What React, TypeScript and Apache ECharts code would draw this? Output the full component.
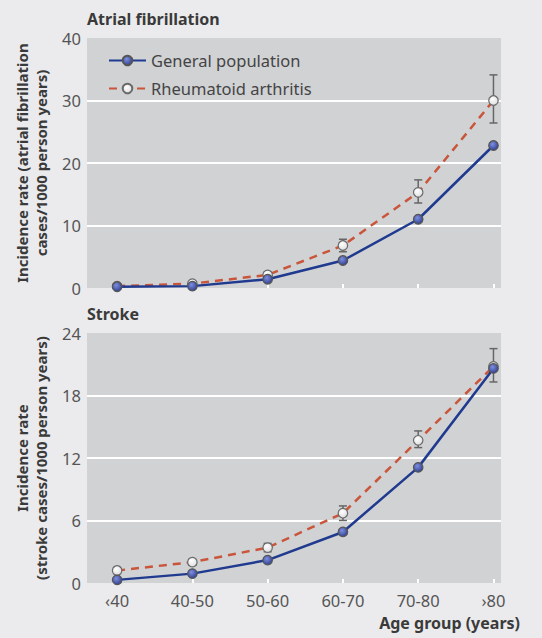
import React, { useEffect, useRef } from "react";
import * as echarts from "echarts";

const categories = ["\u203940", "40-50", "50-60", "60-70", "70-80", "\u203a80"];
const seriesNames = ["General population", "Rheumatoid arthritis"];

const afGeneral = [0.2, 0.3, 1.4, 4.4, 11.0, 22.8];
const afRA = [0.3, 0.7, 2.1, 6.8, 15.3, 30.0];
const afRALow = [0.1, 0.5, 1.6, 5.8, 13.6, 26.4];
const afRAHigh = [0.5, 0.9, 2.6, 7.8, 17.3, 34.1];

const strokeGeneral = [0.3, 0.9, 2.2, 4.9, 11.1, 20.6];
const strokeRA = [1.2, 2.0, 3.4, 6.7, 13.7, 20.8];
const strokeRALow = [0.9, 1.7, 3.0, 6.0, 13.0, 19.3];
const strokeRAHigh = [1.5, 2.3, 3.8, 7.4, 14.6, 22.5];

const afTicks = [0, 10, 20, 30, 40];
const strokeTicks = [0, 6, 12, 18, 24];

const FONT = "'Noto Sans', sans-serif";
const BLUE = "#1f3a8f";
const RED = "#c9553b";

const blueFill = new echarts.graphic.RadialGradient(0.4, 0.35, 0.7, [
  { offset: 0, color: "#7f8fe0" },
  { offset: 1, color: "#2c3c8e" },
]);
const whiteFill = new echarts.graphic.RadialGradient(0.4, 0.35, 0.7, [
  { offset: 0, color: "#ffffff" },
  { offset: 1, color: "#dcdcdc" },
]);

function pairs(vals: number[]) {
  return vals.map((v, i) => [i, v]);
}

function errData(low: number[], high: number[]) {
  return low.map((l, i) => [i, l, high[i]]);
}

function errorSeries(idx: number, low: number[], high: number[]) {
  return {
    type: "custom",
    xAxisIndex: idx,
    yAxisIndex: idx,
    z: 2,
    silent: true,
    data: errData(low, high),
    encode: { x: 0, y: [1, 2] },
    renderItem: (params: any, api: any) => {
      const x = api.value(0);
      const lo = api.coord([x, api.value(1)]);
      const hi = api.coord([x, api.value(2)]);
      const w = 4;
      const style = { stroke: "#666666", lineWidth: 1.5 };
      return {
        type: "group",
        children: [
          { type: "line", shape: { x1: lo[0], y1: lo[1], x2: hi[0], y2: hi[1] }, style },
          { type: "line", shape: { x1: lo[0] - w, y1: lo[1], x2: lo[0] + w, y2: lo[1] }, style },
          { type: "line", shape: { x1: hi[0] - w, y1: hi[1], x2: hi[0] + w, y2: hi[1] }, style },
        ],
      };
    },
  };
}

function raSeries(idx: number, vals: number[]) {
  return {
    name: seriesNames[1],
    type: "line",
    xAxisIndex: idx,
    yAxisIndex: idx,
    z: 3,
    data: pairs(vals),
    symbol: "circle",
    symbolSize: 9.5,
    lineStyle: { color: RED, width: 2.5, type: [8, 6] },
    itemStyle: { color: whiteFill, borderColor: "#6a6a6a", borderWidth: 1.2 },
  };
}

function genSeries(idx: number, vals: number[]) {
  return {
    name: seriesNames[0],
    type: "line",
    xAxisIndex: idx,
    yAxisIndex: idx,
    z: 4,
    data: pairs(vals),
    symbol: "circle",
    symbolSize: 9.5,
    lineStyle: { color: BLUE, width: 2.5 },
    itemStyle: { color: blueFill, borderColor: "#555555", borderWidth: 1.2 },
  };
}

function xAxis(idx: number, showLabels: boolean) {
  const idxs = categories.map((_, i) => i);
  return {
    type: "value",
    gridIndex: idx,
    min: -0.4,
    max: 5.1,
    axisLine: { show: false },
    splitLine: { show: false },
    axisTick: {
      show: true,
      inside: true,
      length: 4,
      customValues: idxs,
      lineStyle: { color: "#ffffff", width: 2 },
    },
    axisLabel: {
      show: showLabels,
      customValues: idxs,
      formatter: (v: number) => categories[Math.round(v)] ?? "",
      color: "#555555",
      fontSize: 16.5,
      fontFamily: FONT,
      margin: 9,
    },
  };
}

function yAxis(idx: number, ticks: number[]) {
  return {
    type: "value",
    gridIndex: idx,
    min: ticks[0],
    max: ticks[ticks.length - 1],
    interval: ticks[1] - ticks[0],
    axisLine: { show: false },
    axisTick: { show: false },
    splitLine: {
      show: true,
      showMinLine: false,
      showMaxLine: false,
      lineStyle: { color: "#ffffff", width: 2 },
    },
    axisLabel: { color: "#555555", fontSize: 16.5, fontFamily: FONT, margin: 6 },
  };
}

export default function App() {
  const ref = useRef<HTMLDivElement>(null);
  useEffect(() => {
    if (!ref.current) return;
    const chart = echarts.init(ref.current, undefined, { renderer: "svg" });
    const titleStyle = { fontFamily: FONT, fontWeight: "bold", fill: "#3a3a3a" };
    chart.setOption({
      animation: false,
      backgroundColor: "#ebebed",
      grid: [
        { left: 87, top: 38, width: 414, height: 250, show: true, backgroundColor: "#d1d2d4", borderWidth: 0 },
        { left: 87, top: 333, width: 414, height: 250, show: true, backgroundColor: "#d1d2d4", borderWidth: 0 },
      ],
      xAxis: [xAxis(0, false), xAxis(1, true)],
      yAxis: [yAxis(0, afTicks), yAxis(1, strokeTicks)],
      legend: {
        data: seriesNames,
        orient: "vertical",
        left: 103,
        top: 47,
        itemWidth: 37,
        itemHeight: 12,
        itemGap: 11,
        textStyle: { color: "#444444", fontSize: 16.5, fontFamily: FONT },
      },
      series: [
        errorSeries(0, afRALow, afRAHigh),
        raSeries(0, afRA),
        genSeries(0, afGeneral),
        errorSeries(1, strokeRALow, strokeRAHigh),
        raSeries(1, strokeRA),
        genSeries(1, strokeGeneral),
      ],
      graphic: [
        { type: "text", left: 87, top: 11, style: { ...titleStyle, text: "Atrial fibrillation", fontSize: 16 } },
        { type: "text", left: 87, top: 306, style: { ...titleStyle, text: "Stroke", fontSize: 16 } },
        {
          type: "text",
          x: 31,
          y: 163,
          rotation: Math.PI / 2,
          style: {
            ...titleStyle,
            text: "Incidence rate (atrial fibrillation\ncases/1000 person years)",
            fontSize: 15,
            lineHeight: 19,
            align: "center",
            verticalAlign: "middle",
          },
        },
        {
          type: "text",
          x: 31,
          y: 458,
          rotation: Math.PI / 2,
          style: {
            ...titleStyle,
            text: "Incidence rate\n(stroke cases/1000 person years)",
            fontSize: 15,
            lineHeight: 19,
            align: "center",
            verticalAlign: "middle",
          },
        },
        {
          type: "text",
          right: 22,
          top: 615,
          style: { ...titleStyle, text: "Age group (years)", fontSize: 16 },
        },
      ],
    });
    return () => chart.dispose();
  }, []);
  return (
    <div
      ref={ref}
      style={{ position: "fixed", left: 0, top: 0, width: 542, height: 638 }}
    />
  );
}
